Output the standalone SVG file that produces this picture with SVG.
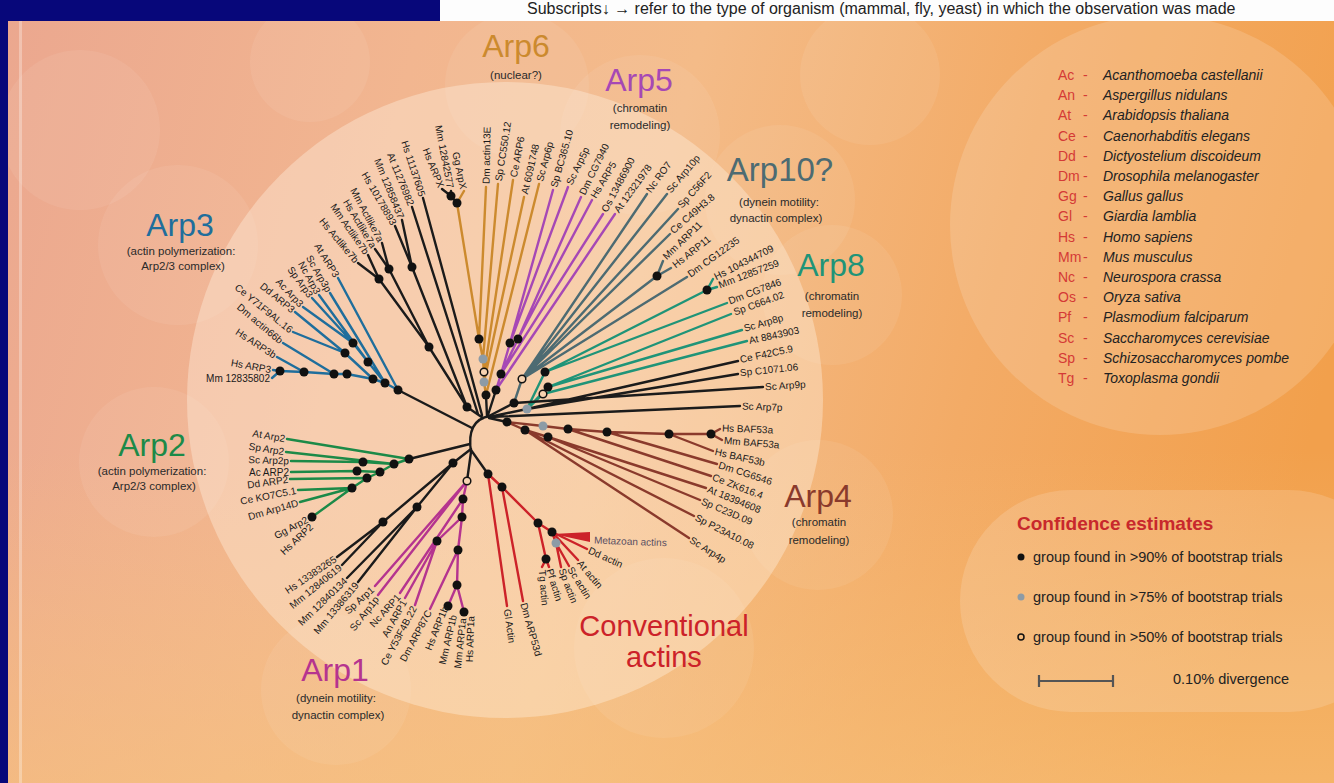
<svg xmlns="http://www.w3.org/2000/svg" width="1334" height="783" viewBox="0 0 1334 783">
<defs>
<linearGradient id="bg" x1="0" y1="0" x2="1334" y2="350" gradientUnits="userSpaceOnUse">
<stop offset="0" stop-color="#eba78f"/><stop offset="0.3" stop-color="#f2b690"/><stop offset="0.5" stop-color="#f4bb88"/><stop offset="0.75" stop-color="#f3ab66"/><stop offset="1" stop-color="#f2a04c"/>
</linearGradient>
<linearGradient id="bot" x1="0" y1="0" x2="0" y2="1">
<stop offset="0" stop-color="#f7c27a" stop-opacity="0"/><stop offset="1" stop-color="#f7c27a" stop-opacity="0.6"/>
</linearGradient>
<style>
.c path{fill:none;stroke-width:2.4;stroke-linecap:round;stroke-linejoin:round}
.k{stroke:#1b1b1b}.b{stroke:#1f6e9c}.g{stroke:#1c8a48}.m{stroke:#b5348f}.r{stroke:#cc2229}.br{stroke:#8a3a2c}.t{stroke:#1f9478}.s{stroke:#4d6b72}.p{stroke:#a648b5}.o{stroke:#cc8a2e}
.d{fill:#111}.gd{fill:#8d9ba6}.od{fill:#f6d2b0;stroke:#111;stroke-width:1.5}
text{font-family:"Liberation Sans",Arial,sans-serif}
.lab text{font-size:10px;fill:#1a1a1a;dominant-baseline:central}
.e{text-anchor:end}
.ttl{font-size:32px;text-anchor:middle}
.sub{font-size:11.5px;fill:#2a2a2a;text-anchor:middle}
.bk{fill:#fff;opacity:0.07}
.ab{font-size:14px;fill:#d43a36}
.nm{font-size:14px;fill:#222;font-style:italic}
.cf{font-size:14.5px;fill:#222}
</style>
</defs>
<rect width="1334" height="783" fill="url(#bg)"/>
<rect y="450" width="1334" height="333" fill="url(#bot)"/>
<g id="background">
<circle class="bk" cx="80" cy="130" r="80"/>
<circle class="bk" cx="310" cy="62" r="60"/>
<circle class="bk" cx="517" cy="85" r="72"/>
<circle class="bk" cx="640" cy="135" r="80"/>
<circle class="bk" cx="870" cy="75" r="70"/>
<circle class="bk" cx="178" cy="245" r="80"/>
<circle class="bk" cx="154" cy="462" r="75"/>
<circle class="bk" cx="780" cy="200" r="75"/>
<circle class="bk" cx="832" cy="295" r="70"/>
<circle class="bk" cx="818" cy="515" r="75"/>
<circle class="bk" cx="336" cy="690" r="75"/>
<circle class="bk" cx="664" cy="648" r="90"/>
<circle cx="1160" cy="225" r="210" fill="#fff" opacity="0.15"/>
<rect x="960" y="490" width="440" height="222" rx="111" fill="#fff" opacity="0.15"/>
<circle cx="505" cy="400" r="318" fill="#fff3e2" opacity="0.38"/>
<rect x="19" y="21" width="3" height="762" fill="#fff" opacity="0.3"/>
</g>
<g id="frame">
<rect x="0" y="0" width="8" height="783" fill="#07077a"/>
<rect x="0" y="0" width="440" height="21" fill="#07077a"/>
<rect x="440" y="0" width="894" height="21" fill="#fdfdfd"/>
<text x="527" y="14" font-family="'Liberation Serif',serif" font-size="16" fill="#222">Subscripts↓ → refer to the type of organism (mammal, fly, yeast) in which the observation was made</text>
</g>

<g id="connectors" class="c">
<path class="k" d="M490,416 Q466,420 471,452"/>
<path class="b" d="M272,378 L280,371 M273,370 L280,371 M280,371 L304,372 L334,374 L347,374 L373,379 L385,383 L398,390 M277,357 L304,372 M283,343 L334,374 M293,332 L345,353 M295,312 L345,353 M345,353 L373,379 M303,307 L353,343 M312,298 L353,343 M353,343 L368,362 M319,295 L368,362 M368,362 L385,383 M330,293 L385,383 M338,278 L398,390"/>
<path class="k" d="M398,390 L472,428"/>
<path class="k" d="M358,263 L379,279 M368,255 L379,279 M375,249 L389,269 M382,243 L389,269 M395,226 L412,267 M402,220 L412,267 M379,279 L429,347 M389,269 L429,347 M429,347 L467,407 M412,267 L467,407 M467,407 L483,418 M412,207 L478,414 M423,198 L482,415 M442,189 L451,196 M451,191 L451,196 M451,196 L457,203"/>
<path class="o" d="M464,191 L457,203 M457,203 L479,339 M486,187 L479,339 M479,339 L483,359 M498,184 L483,359 M483,359 L484,374 M513,180 L484,374 M484,374 L484,382 M524,197 L484,382 M484,382 L486,395 M539,184 L486,395"/>
<path class="k" d="M486,395 L487,416"/>
<path class="p" d="M553,190 L510,343 M568,187 L510,343 M581,197 L518,339 M592,200 L518,339 M510,343 L501,374 M518,339 L501,374 M603,214 L501,374 M501,374 L496,390 M615,214 L496,390"/>
<path class="k" d="M496,390 L488,415"/>
<path class="s" d="M647,194 L522,379 M667,194 L522,379 M678,209 L522,379 M670,234 L522,379 M657,276 L522,379 M663,261 L657,276 M671,268 L657,276 M687,277 L522,379 M522,379 L514,403"/>
<path class="k" d="M514,403 L489,416"/>
<path class="t" d="M707,290 L545,372 M713,279 L707,290 M717,287 L707,290 M727,303 L545,372 M731,314 L548,387 M742,330 L548,387 M747,341 L543,394 M545,372 L527,409 M548,387 L527,409 M543,394 L527,409"/>
<path class="k" d="M527,409 L489,417 M738,361 L527,409 M738,374 L527,409 M763,387 L514,403 M740,406 L490,417"/>
<path class="br" d="M720,429 L711,434 M722,440 L711,434 M711,434 L669,434 L607,432 L568,429 L543,426 L507,422 M713,451 L669,434 M717,464 L607,432 M711,476 L568,429 M706,488 L548,437 M700,500 L548,437 M548,437 L525,430 M694,516 L525,430 M689,538 L525,430 M525,430 L507,422"/>
<path class="k" d="M507,422 L489,418"/>
<path class="k" d="M471,450 L488,474"/>
<path class="r" d="M488,474 L507,606 M488,474 L502,487 M502,487 L523,601 M502,487 L538,523 M538,523 L546,559 M546,559 L542,567 M546,559 L549,567 M538,523 L552,532 M552,532 L556,543 M556,543 L561,567 M556,543 L569,566 M552,532 L578,560 M552,532 L587,549"/>
<polygon points="553,534 590,532 590,542" fill="#cc2229"/>
<path class="m" d="M448,606 L457,585 M464,612 L457,585 M457,585 L458,550 L462,517 L463,499 L467,481 M430,609 L458,550 M415,605 L437,541 M405,598 L437,541 M437,541 L462,517 M400,593 L463,499 M378,595 L467,481 M375,586 L467,481"/>
<path class="k" d="M467,481 L471,452"/>
<path class="k" d="M337,557 L383,522 M342,565 L383,522 M383,522 L453,463 M347,578 L417,507 M358,582 L417,507 M417,507 L453,463 M453,463 L471,449"/>
<path class="g" d="M287,439 L409,459 M286,452 L394,464 M291,461 L363,462 L394,464 M291,472 L357,471 L380,472 L394,464 M290,479 L367,478 L380,472 M298,490 L352,488 L367,478 M300,502 L352,488 M312,517 L352,488 M394,464 L409,459"/>
<path class="k" d="M409,459 L470,444"/>
</g>

<g id="support">
<circle class="d" cx="398" cy="390" r="4.5"/><circle class="d" cx="385" cy="383" r="4.5"/><circle class="d" cx="373" cy="379" r="4.5"/><circle class="d" cx="368" cy="362" r="4.5"/><circle class="d" cx="353" cy="343" r="4.5"/><circle class="d" cx="345" cy="353" r="4.5"/><circle class="d" cx="347" cy="374" r="4.5"/><circle class="d" cx="334" cy="374" r="4.5"/><circle class="d" cx="304" cy="372" r="4.5"/><circle class="d" cx="280" cy="371" r="4.5"/>
<circle class="d" cx="379" cy="279" r="4.5"/><circle class="d" cx="389" cy="269" r="4.5"/><circle class="d" cx="412" cy="267" r="4.5"/><circle class="d" cx="429" cy="347" r="4.5"/><circle class="d" cx="467" cy="407" r="4.5"/>
<circle class="d" cx="451" cy="196" r="4.5"/><circle class="d" cx="457" cy="203" r="4.5"/>
<circle class="d" cx="479" cy="339" r="4.5"/><circle class="gd" cx="483" cy="359" r="4.5"/><circle class="od" cx="484" cy="372" r="3.8"/><circle class="gd" cx="484" cy="382" r="4.5"/><circle class="d" cx="486" cy="395" r="4.5"/>
<circle class="d" cx="510" cy="343" r="4.5"/><circle class="d" cx="518" cy="339" r="4.5"/><circle class="d" cx="501" cy="374" r="4.5"/><circle class="d" cx="496" cy="390" r="4.5"/>
<circle class="od" cx="522" cy="379" r="3.8"/><circle class="d" cx="657" cy="276" r="4.5"/><circle class="d" cx="514" cy="403" r="4.5"/>
<circle class="d" cx="707" cy="290" r="4.5"/><circle class="d" cx="545" cy="372" r="4.5"/><circle class="d" cx="548" cy="387" r="4.5"/><circle class="od" cx="543" cy="394" r="3.8"/><circle class="gd" cx="527" cy="409" r="4.5"/>
<circle class="d" cx="711" cy="434" r="4.5"/><circle class="d" cx="669" cy="434" r="4.5"/><circle class="d" cx="607" cy="432" r="4.5"/><circle class="d" cx="568" cy="429" r="4.5"/><circle class="gd" cx="543" cy="426" r="4.5"/><circle class="d" cx="507" cy="422" r="4.5"/><circle class="d" cx="525" cy="430" r="4.5"/><circle class="d" cx="548" cy="437" r="4.5"/>
<circle class="d" cx="488" cy="474" r="4.5"/><circle class="d" cx="502" cy="487" r="4.5"/><circle class="d" cx="538" cy="523" r="4.5"/><circle class="d" cx="552" cy="532" r="4.5"/><circle class="gd" cx="556" cy="543" r="4.5"/><circle class="d" cx="546" cy="559" r="4.5"/>
<circle class="d" cx="448" cy="606" r="4.5"/><circle class="d" cx="464" cy="612" r="4.5"/><circle class="d" cx="457" cy="585" r="4.5"/><circle class="d" cx="458" cy="550" r="4.5"/><circle class="d" cx="462" cy="517" r="4.5"/><circle class="d" cx="463" cy="499" r="4.5"/><circle class="d" cx="437" cy="541" r="4.5"/><circle class="od" cx="467" cy="481" r="3.8"/>
<circle class="d" cx="383" cy="522" r="4.5"/><circle class="d" cx="417" cy="507" r="4.5"/><circle class="d" cx="453" cy="463" r="4.5"/>
<circle class="d" cx="409" cy="459" r="4.5"/><circle class="d" cx="394" cy="464" r="4.5"/><circle class="d" cx="380" cy="472" r="4.5"/><circle class="d" cx="363" cy="462" r="4.5"/><circle class="d" cx="357" cy="471" r="4.5"/><circle class="d" cx="367" cy="478" r="4.5"/><circle class="d" cx="352" cy="488" r="4.5"/><circle class="d" cx="312" cy="517" r="4.5"/>
</g>

<g id="arp3" class="lab">
<text class="e" x="338" y="278" dx="-2" transform="rotate(58 338 278)">At ARP3</text>
<text class="e" x="330" y="293" dx="-2" transform="rotate(60 330 293)">Sc Arp3p</text>
<text class="e" x="319" y="295" dx="-2" transform="rotate(61 319 295)">Nc Arp3</text>
<text class="e" x="312" y="298" dx="-2" transform="rotate(54 312 298)">Sp Arp3</text>
<text class="e" x="303" y="307" dx="-2" transform="rotate(47 303 307)">Ac Arp3</text>
<text class="e" x="295" y="312" dx="-2" transform="rotate(39 295 312)">Dd ARP3</text>
<text class="e" x="293" y="332" dx="-2" transform="rotate(39 293 332)">Ce Y71F9AL.16</text>
<text class="e" x="283" y="343" dx="-2" transform="rotate(40 283 343)">Dm actin66b</text>
<text class="e" x="277" y="357" dx="-2" transform="rotate(33 277 357)">Hs ARP3b</text>
<text class="e" x="273" y="370" dx="-2" transform="rotate(10 273 370)">Hs ARP3</text>
<text class="e" x="272" y="378" dx="-2">Mm 12835802</text>
</g>
<g id="unassigned-top" class="lab">
<text class="e" x="358" y="263" dx="-2" transform="rotate(50 358 263)">Hs Actlike7b</text>
<text class="e" x="368" y="255" dx="-2" transform="rotate(55 368 255)">Mm Actlike7b</text>
<text class="e" x="375" y="249" dx="-2" transform="rotate(59 375 249)">Hs Actlike7a</text>
<text class="e" x="382" y="243" dx="-2" transform="rotate(62 382 243)">Mm Actlike7a</text>
<text class="e" x="395" y="226" dx="-2" transform="rotate(60 395 226)">Hs 10178893</text>
<text class="e" x="402" y="220" dx="-2" transform="rotate(68 402 220)">Mm 12858437</text>
<text class="e" x="412" y="207" dx="-2" transform="rotate(68 412 207)">At 11276982</text>
<text class="e" x="423" y="198" dx="-2" transform="rotate(72 423 198)">Hs 11137605</text>
<text class="e" x="442" y="189" dx="-2" transform="rotate(68 442 189)">Hs ARPX</text>
<text class="e" x="451" y="190" dx="-2" transform="rotate(79 451 190)">Mm 12842577</text>
<text class="e" x="464" y="191" dx="-2" transform="rotate(78 464 191)">Gg ArpX</text>
</g>
<g id="arp6" class="lab">
<text x="486" y="186" dx="2" transform="rotate(-89 486 186)">Dm actin13E</text>
<text x="498" y="183" dx="2" transform="rotate(-81 498 183)">Sp CC550.12</text>
<text x="513" y="179" dx="2" transform="rotate(-79 513 179)">Ce ARP6</text>
<text x="524" y="196" dx="2" transform="rotate(-77 524 196)">At 6091748</text>
<text x="539" y="183" dx="2" transform="rotate(-75 539 183)">Sc Arp6p</text>
</g>
<g id="arp5" class="lab">
<text x="553" y="189" dx="2" transform="rotate(-74 553 189)">Sp BC365.10</text>
<text x="568" y="186" dx="2" transform="rotate(-64 568 186)">Sc Arp5p</text>
<text x="581" y="196" dx="2" transform="rotate(-64 581 196)">Dm CG7940</text>
<text x="592" y="199" dx="2" transform="rotate(-59 592 199)">Hs ARP5</text>
<text x="603" y="213" dx="2" transform="rotate(-62 603 213)">Os 13486900</text>
<text x="615" y="213" dx="2" transform="rotate(-54 615 213)">At 12321978</text>
</g>
<g id="arp10" class="lab">
<text x="647" y="193" dx="2" transform="rotate(-54 647 193)">Nc RO7</text>
<text x="667" y="193" dx="2" transform="rotate(-50 667 193)">Sc Arp10p</text>
<text x="678" y="208" dx="2" transform="rotate(-48 678 208)">Sp C56F2</text>
<text x="670" y="233" dx="2" transform="rotate(-41 670 233)">Ce C49H3.8</text>
<text x="663" y="259" dx="2" transform="rotate(-44 663 259)">Mm ARP11</text>
<text x="672" y="267" dx="2" transform="rotate(-38 672 267)">Hs ARP11</text>
<text x="687" y="276" dx="2" transform="rotate(-36 687 276)">Dm CG12235</text>
</g>
<g id="arp8" class="lab">
<text x="713" y="278" dx="2" transform="rotate(-27 713 278)">Hs 104344709</text>
<text x="717" y="286" dx="2" transform="rotate(-21 717 286)">Mm 12857259</text>
<text x="727" y="302" dx="2" transform="rotate(-21 727 302)">Dm CG7846</text>
<text x="732" y="313" dx="2" transform="rotate(-20 732 313)">Sp C664.02</text>
<text x="742" y="329" dx="2" transform="rotate(-16 742 329)">Sc Arp8p</text>
<text x="747" y="341" dx="2" transform="rotate(-12 747 341)">At 8843903</text>
</g>
<g id="arp7-9" class="lab">
<text x="738" y="360" dx="2" transform="rotate(-12 738 360)">Ce F42C5.9</text>
<text x="738" y="373" dx="2" transform="rotate(-6 738 373)">Sp C1071.06</text>
<text x="763" y="387" dx="2" transform="rotate(-4 763 387)">Sc Arp9p</text>
<text x="740" y="406" dx="2" transform="rotate(2 740 406)">Sc Arp7p</text>
</g>
<g id="arp4" class="lab">
<text x="720" y="428" dx="2" transform="rotate(2 720 428)">Hs BAF53a</text>
<text x="722" y="440" dx="2" transform="rotate(5 722 440)">Mm BAF53a</text>
<text x="713" y="451" dx="2" transform="rotate(13 713 451)">Hs BAF53b</text>
<text x="717" y="464" dx="2" transform="rotate(18 717 464)">Dm CG6546</text>
<text x="711" y="476" dx="2" transform="rotate(21 711 476)">Ce ZK616.4</text>
<text x="706" y="488" dx="2" transform="rotate(22 706 488)">At 18394608</text>
<text x="700" y="500" dx="2" transform="rotate(23 700 500)">Sp C23D.09</text>
<text x="694" y="516" dx="2" transform="rotate(27 694 516)">Sp P23A10.08</text>
<text x="689" y="538" dx="2" transform="rotate(32 689 538)">Sc Arp4p</text>
</g>
<g id="actins" class="lab">
<text x="592" y="540" dx="2" transform="rotate(2 592 540)" style="fill:#5a4e62">Metazoan actins</text>
<text x="587" y="549" dx="2" transform="rotate(24 587 549)">Dd actin</text>
<text x="578" y="560" dx="2" transform="rotate(50 578 560)">At actin</text>
<text x="569" y="566" dx="2" transform="rotate(58 569 566)">Sc actin</text>
<text x="561" y="567" dx="2" transform="rotate(69 561 567)">Sp actin</text>
<text x="549" y="567" dx="2" transform="rotate(73 549 567)">Pf actin</text>
<text x="542" y="568" dx="2" transform="rotate(85 542 568)">Tg actin</text>
<text x="523" y="601" dx="2" transform="rotate(74 523 601)">Dm ARP53d</text>
<text x="507" y="607" dx="2" transform="rotate(82 507 607)">Gl Actin</text>
</g>
<g id="arp1" class="lab">
<text class="e" x="374" y="587" dx="-2" transform="rotate(-42 374 587)">Sp Arp1</text>
<text class="e" x="378" y="596" dx="-2" transform="rotate(-52 378 596)">Sc Arp1p</text>
<text class="e" x="400" y="594" dx="-2" transform="rotate(-48 400 594)">Nc ARP1</text>
<text class="e" x="405" y="599" dx="-2" transform="rotate(-61 405 599)">An ARP1</text>
<text class="e" x="415" y="605" dx="-2" transform="rotate(-62 415 605)">Ce Y53F4B.22</text>
<text class="e" x="430" y="609" dx="-2" transform="rotate(-62 430 609)">Dm ARP87C</text>
<text class="e" x="446" y="605" dx="-2" transform="rotate(-68 446 605)">Hs ARP1b</text>
<text class="e" x="454" y="613" dx="-2" transform="rotate(-77 454 613)">Mm ARP1b</text>
<text class="e" x="463" y="616" dx="-2" transform="rotate(-84 463 616)">Mm ARP1a</text>
<text class="e" x="471" y="614" dx="-2" transform="rotate(-88 471 614)">Hs ARP1a</text>
</g>
<g id="unassigned-bottom" class="lab">
<text class="e" x="337" y="557" dx="-2" transform="rotate(-34 337 557)">Hs 13383265</text>
<text class="e" x="342" y="565" dx="-2" transform="rotate(-39 342 565)">Mm 12840619</text>
<text class="e" x="347" y="578" dx="-2" transform="rotate(-44 347 578)">Mm 12840134</text>
<text class="e" x="358" y="582" dx="-2" transform="rotate(-50 358 582)">Mm 13386319</text>
</g>
<g id="arp2" class="lab">
<text class="e" x="287" y="439" dx="-2" transform="rotate(10 287 439)">At Arp2</text>
<text class="e" x="286" y="452" dx="-2" transform="rotate(9 286 452)">Sp Arp2</text>
<text class="e" x="291" y="461" dx="-2" transform="rotate(2 291 461)">Sc Arp2p</text>
<text class="e" x="291" y="472" dx="-2">Ac ARP2</text>
<text class="e" x="290" y="479" dx="-2" transform="rotate(-8 290 479)">Dd ARP2</text>
<text class="e" x="298" y="490" dx="-2" transform="rotate(-11 298 490)">Ce KO7C5.1</text>
<text class="e" x="300" y="502" dx="-2" transform="rotate(-16 300 502)">Dm Arp14D</text>
<text class="e" x="309" y="518" dx="-2" transform="rotate(-28 309 518)">Gg Arp2</text>
<text class="e" x="313" y="524" dx="-2" transform="rotate(-43 313 524)">Hs ARP2</text>
</g>

<g id="clade-titles">
<text class="ttl" x="516" y="57" fill="#cc8a2e">Arp6</text><text class="sub" x="516" y="79">(nuclear?)</text>
<text class="ttl" x="639" y="91" fill="#a648b5">Arp5</text><text class="sub" x="640" y="112">(chromatin</text><text class="sub" x="640" y="129">remodeling)</text>
<text class="ttl" x="780" y="181" fill="#4d6b72" style="font-size:33px">Arp10?</text><text class="sub" x="779" y="206">(dynein motility:</text><text class="sub" x="776" y="222">dynactin complex)</text>
<text class="ttl" x="831" y="276" fill="#1f9478">Arp8</text><text class="sub" x="832" y="300">(chromatin</text><text class="sub" x="832" y="317">remodeling)</text>
<text class="ttl" x="180" y="236" fill="#1f6e9c">Arp3</text><text class="sub" x="181" y="255">(actin polymerization:</text><text class="sub" x="183" y="270">Arp2/3 complex)</text>
<text class="ttl" x="152" y="456" fill="#1c8a48">Arp2</text><text class="sub" x="152" y="475">(actin polymerization:</text><text class="sub" x="154" y="490">Arp2/3 complex)</text>
<text class="ttl" x="818" y="507" fill="#8a3a2c">Arp4</text><text class="sub" x="819" y="526">(chromatin</text><text class="sub" x="819" y="544">remodeling)</text>
<text class="ttl" x="335" y="681" fill="#b5348f">Arp1</text><text class="sub" x="336" y="702">(dynein motility:</text><text class="sub" x="338" y="719">dynactin complex)</text>
<text class="ttl" x="664" y="636" fill="#cc2229" style="font-size:29px">Conventional</text><text class="ttl" x="664" y="667" fill="#cc2229" style="font-size:29px">actins</text>
</g>

<g id="species-key">
<text class="ab" x="1058" y="80">Ac</text><text class="ab" x="1083" y="80">-</text><text class="nm" x="1103" y="80">Acanthomoeba castellanii</text>
<text class="ab" x="1058" y="100">An</text><text class="ab" x="1083" y="100">-</text><text class="nm" x="1103" y="100">Aspergillus nidulans</text>
<text class="ab" x="1058" y="120">At</text><text class="ab" x="1083" y="120">-</text><text class="nm" x="1103" y="120">Arabidopsis thaliana</text>
<text class="ab" x="1058" y="141">Ce</text><text class="ab" x="1083" y="141">-</text><text class="nm" x="1103" y="141">Caenorhabditis elegans</text>
<text class="ab" x="1058" y="161">Dd</text><text class="ab" x="1083" y="161">-</text><text class="nm" x="1103" y="161">Dictyostelium discoideum</text>
<text class="ab" x="1058" y="181">Dm</text><text class="ab" x="1083" y="181">-</text><text class="nm" x="1103" y="181">Drosophila melanogaster</text>
<text class="ab" x="1058" y="201">Gg</text><text class="ab" x="1083" y="201">-</text><text class="nm" x="1103" y="201">Gallus gallus</text>
<text class="ab" x="1058" y="221">Gl</text><text class="ab" x="1083" y="221">-</text><text class="nm" x="1103" y="221">Giardia lamblia</text>
<text class="ab" x="1058" y="242">Hs</text><text class="ab" x="1083" y="242">-</text><text class="nm" x="1103" y="242">Homo sapiens</text>
<text class="ab" x="1058" y="262">Mm</text><text class="ab" x="1083" y="262">-</text><text class="nm" x="1103" y="262">Mus musculus</text>
<text class="ab" x="1058" y="282">Nc</text><text class="ab" x="1083" y="282">-</text><text class="nm" x="1103" y="282">Neurospora crassa</text>
<text class="ab" x="1058" y="302">Os</text><text class="ab" x="1083" y="302">-</text><text class="nm" x="1103" y="302">Oryza sativa</text>
<text class="ab" x="1058" y="322">Pf</text><text class="ab" x="1083" y="322">-</text><text class="nm" x="1103" y="322">Plasmodium falciparum</text>
<text class="ab" x="1058" y="343">Sc</text><text class="ab" x="1083" y="343">-</text><text class="nm" x="1103" y="343">Saccharomyces cerevisiae</text>
<text class="ab" x="1058" y="363">Sp</text><text class="ab" x="1083" y="363">-</text><text class="nm" x="1103" y="363">Schizosaccharomyces pombe</text>
<text class="ab" x="1058" y="383">Tg</text><text class="ab" x="1083" y="383">-</text><text class="nm" x="1103" y="383">Toxoplasma gondii</text>
</g>

<g id="confidence-key">
<text x="1017" y="530" font-size="19" font-weight="bold" fill="#c8282c">Confidence estimates</text>
<circle class="d" cx="1021" cy="557" r="3.5"/><text class="cf" x="1033" y="562">group found in &gt;90% of bootstrap trials</text>
<circle class="gd" cx="1021" cy="597" r="3.5"/><text class="cf" x="1033" y="602">group found in &gt;75% of bootstrap trials</text>
<circle class="od" cx="1021" cy="637" r="3" style="fill:none"/><text class="cf" x="1033" y="642">group found in &gt;50% of bootstrap trials</text>
<path d="M1039,681 L1113,681 M1039,675 L1039,687 M1113,675 L1113,687" stroke="#555" stroke-width="2.2" fill="none"/>
<text class="cf" x="1173" y="684">0.10% divergence</text>
</g>
</svg>
